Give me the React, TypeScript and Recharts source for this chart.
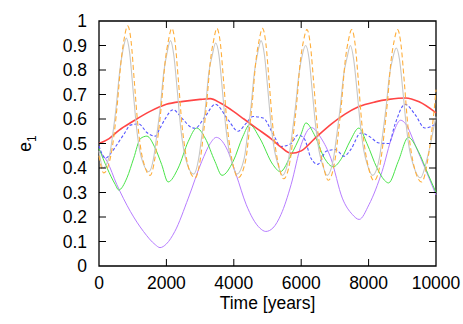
import React from 'react';
import { LineChart, Line, XAxis, YAxis, ReferenceArea, Label } from 'recharts';

// [time in years, e1] pairs
const ORANGE: [number, number][] = [
  [0, 0.45], [140, 0.38],
  [350, 0.45], [450, 0.54], [550, 0.67], [650, 0.83], [750, 0.93], [850, 0.98], [950, 0.92], [1050, 0.75], [1150, 0.58], [1250, 0.47], [1350, 0.41], [1520, 0.37],
  [1660, 0.44], [1760, 0.54], [1860, 0.67], [1960, 0.83], [2060, 0.92], [2160, 0.97], [2260, 0.91], [2360, 0.75], [2460, 0.58], [2560, 0.47], [2660, 0.40], [2850, 0.36],
  [3000, 0.43], [3100, 0.54], [3200, 0.67], [3300, 0.83], [3400, 0.92], [3500, 0.97], [3600, 0.91], [3700, 0.75], [3800, 0.58], [3900, 0.47], [4000, 0.40], [4125, 0.36],
  [4350, 0.43], [4450, 0.54], [4550, 0.67], [4650, 0.83], [4750, 0.92], [4850, 0.97], [4950, 0.91], [5050, 0.75], [5150, 0.58], [5250, 0.47], [5350, 0.40], [5480, 0.356],
  [5670, 0.43], [5770, 0.54], [5870, 0.67], [5970, 0.83], [6070, 0.92], [6170, 0.965], [6270, 0.905], [6370, 0.75], [6470, 0.58], [6570, 0.47], [6670, 0.40], [6805, 0.35],
  [7000, 0.43], [7100, 0.54], [7200, 0.67], [7300, 0.83], [7400, 0.92], [7500, 0.965], [7600, 0.905], [7700, 0.75], [7800, 0.58], [7900, 0.47], [8000, 0.40], [8160, 0.348],
  [8360, 0.43], [8460, 0.54], [8560, 0.67], [8660, 0.83], [8760, 0.92], [8860, 0.965], [8960, 0.905], [9060, 0.75], [9160, 0.58], [9260, 0.47], [9360, 0.40], [9575, 0.343],
  [9775, 0.45], [9875, 0.55], [9975, 0.68], [10000, 0.72],
];

const GRAY: [number, number][] = [
  [0, 0.47], [120, 0.40],
  [310, 0.45], [410, 0.54], [510, 0.65], [610, 0.79], [710, 0.88], [810, 0.93], [910, 0.87], [1010, 0.72], [1110, 0.57], [1210, 0.47], [1310, 0.42], [1480, 0.385],
  [1620, 0.44], [1720, 0.54], [1820, 0.65], [1920, 0.79], [2020, 0.87], [2120, 0.92], [2220, 0.86], [2320, 0.72], [2420, 0.57], [2520, 0.47], [2620, 0.415], [2810, 0.375],
  [2960, 0.44], [3060, 0.54], [3160, 0.65], [3260, 0.79], [3360, 0.86], [3460, 0.91], [3560, 0.86], [3660, 0.72], [3760, 0.57], [3860, 0.47], [3960, 0.415], [4090, 0.375],
  [4310, 0.44], [4410, 0.54], [4510, 0.65], [4610, 0.79], [4710, 0.87], [4810, 0.92], [4910, 0.86], [5010, 0.72], [5110, 0.57], [5210, 0.47], [5310, 0.415], [5440, 0.37],
  [5630, 0.44], [5730, 0.54], [5830, 0.65], [5930, 0.78], [6030, 0.86], [6130, 0.90], [6230, 0.85], [6330, 0.71], [6430, 0.57], [6530, 0.47], [6630, 0.415], [6770, 0.37],
  [6960, 0.44], [7060, 0.54], [7160, 0.65], [7260, 0.78], [7360, 0.85], [7460, 0.90], [7560, 0.84], [7660, 0.71], [7760, 0.57], [7860, 0.47], [7960, 0.415], [8120, 0.37],
  [8320, 0.44], [8420, 0.54], [8520, 0.65], [8620, 0.78], [8720, 0.85], [8820, 0.89], [8920, 0.84], [9020, 0.71], [9120, 0.57], [9220, 0.47], [9320, 0.415], [9540, 0.36],
  [9740, 0.44], [9840, 0.50], [9940, 0.57], [10000, 0.61],
];

const RED: [number, number][] = [
  [0, 0.50], [300, 0.52], [600, 0.555], [1000, 0.59], [1500, 0.63], [2000, 0.66], [2500, 0.672], [3000, 0.68], [3300, 0.683],
  [3600, 0.665], [4000, 0.63], [4300, 0.60], [4700, 0.56], [5100, 0.52], [5400, 0.485], [5700, 0.46], [6000, 0.47], [6400, 0.52],
  [6900, 0.58], [7300, 0.62], [7700, 0.65], [8200, 0.67], [8600, 0.68], [9100, 0.686], [9500, 0.67], [10000, 0.625],
];

const BLUE: [number, number][] = [
  [0, 0.49], [190, 0.44], [350, 0.46], [530, 0.495], [750, 0.54], [930, 0.575], [1180, 0.58], [1420, 0.545], [1670, 0.53],
  [1800, 0.56], [1960, 0.60], [2200, 0.638], [2450, 0.605], [2750, 0.565], [2850, 0.562], [3150, 0.61], [3450, 0.66], [3830, 0.597],
  [4125, 0.55], [4350, 0.58], [4570, 0.61], [4870, 0.604], [5160, 0.54], [5400, 0.488], [5700, 0.50], [5900, 0.535], [6090, 0.52],
  [6290, 0.44], [6490, 0.415], [6740, 0.468], [7020, 0.475], [7270, 0.448], [7470, 0.475], [7770, 0.543], [8010, 0.53], [8310, 0.502],
  [8600, 0.50], [8780, 0.577], [9080, 0.66], [9380, 0.618], [9670, 0.563], [10000, 0.58],
];

const GREEN: [number, number][] = [
  [0, 0.48], [240, 0.40], [485, 0.332], [585, 0.31], [830, 0.36], [1030, 0.44], [1230, 0.52], [1420, 0.53], [1670, 0.48],
  [1860, 0.414], [2050, 0.343], [2350, 0.40], [2650, 0.509], [2900, 0.563], [3150, 0.522], [3440, 0.427], [3650, 0.37], [3980, 0.427],
  [4270, 0.529], [4470, 0.577], [4770, 0.522], [5160, 0.414], [5380, 0.385], [5700, 0.454], [5990, 0.536], [6140, 0.584], [6390, 0.536],
  [6690, 0.44], [6950, 0.405], [7200, 0.44], [7450, 0.51], [7710, 0.563], [7950, 0.50], [8250, 0.40], [8500, 0.346], [8590, 0.339],
  [8880, 0.427], [9180, 0.525], [9475, 0.468], [9770, 0.373], [10000, 0.30],
];

const PURPLE: [number, number][] = [
  [0, 0.47], [240, 0.427], [530, 0.332], [930, 0.223], [1320, 0.141], [1670, 0.087], [1810, 0.075], [2000, 0.09], [2250, 0.141],
  [2650, 0.277], [3050, 0.427], [3300, 0.50], [3480, 0.525], [3780, 0.482], [4070, 0.373], [4370, 0.25], [4770, 0.155], [4950, 0.141],
  [5160, 0.155], [5400, 0.21], [5700, 0.332], [6000, 0.495], [6300, 0.565], [6590, 0.522], [6880, 0.44], [7220, 0.277], [7520, 0.21],
  [7720, 0.19], [8010, 0.25], [8400, 0.386], [8700, 0.53], [8950, 0.595], [9100, 0.58], [9380, 0.495], [9670, 0.40], [10000, 0.29],
];

const X_TICKS = [0, 2000, 4000, 6000, 8000, 10000];
const Y_TICKS = [0, 0.1, 0.2, 0.3, 0.4, 0.5, 0.6, 0.7, 0.8, 0.9, 1];

const W = 463;
const H = 324;
const PLOT = { left: 99, right: 436, top: 21, bottom: 266 };
const TICK = 7;
const FONT = '"Liberation Sans", Arial, Helvetica, sans-serif';

const pts = (pairs: [number, number][]) => pairs.map(([t, v]) => ({ t, v }));

const XTick = (props: any) => {
  const { x, y, payload } = props;
  const edge = payload.value !== 0 && payload.value !== 10000;
  return (
    <g>
      {edge && <line x1={x} x2={x} y1={PLOT.bottom} y2={PLOT.bottom - TICK} stroke="#000" />}
      {edge && <line x1={x} x2={x} y1={PLOT.top} y2={PLOT.top + TICK} stroke="#000" />}
      <text x={x} y={y} dy="0.71em" textAnchor="middle" fill="#000" fontSize={17.5} fontFamily={FONT}>
        {payload.value}
      </text>
    </g>
  );
};

const YTick = (props: any) => {
  const { x, y, payload } = props;
  const edge = payload.value !== 0 && payload.value !== 1;
  return (
    <g>
      {edge && <line x1={PLOT.left} x2={PLOT.left + TICK} y1={y} y2={y} stroke="#000" />}
      {edge && <line x1={PLOT.right} x2={PLOT.right - TICK} y1={y} y2={y} stroke="#000" />}
      <text x={x} y={y} dy="0.355em" textAnchor="end" fill="#000" fontSize={17.5} fontFamily={FONT}>
        {payload.value}
      </text>
    </g>
  );
};

const renderXLabel = (props: any) => {
  const vb = props.viewBox;
  return (
    <text x={vb.x + vb.width / 2} y={vb.y + 43} textAnchor="middle" fill="#000" fontSize={17.5} fontFamily={FONT}>
      Time [years]
    </text>
  );
};

const renderYLabel = (props: any) => {
  const vb = props.viewBox;
  const cx = vb.x + 31;
  const cy = vb.y + vb.height / 2;
  return (
    <text x={cx} y={cy} transform={`rotate(-90 ${cx} ${cy})`} textAnchor="middle" fill="#000" fontSize={17.5} fontFamily={FONT}>
      e<tspan fontSize={12} dy={5}>1</tspan>
    </text>
  );
};

const SERIES = [
  { key: 'purple', data: PURPLE, color: '#b77dff', width: 1, dash: undefined },
  { key: 'green', data: GREEN, color: '#48e448', width: 1, dash: undefined },
  { key: 'blue', data: BLUE, color: '#5656ff', width: 1.1, dash: '3 2' },
  { key: 'red', data: RED, color: '#ff4545', width: 1.6, dash: undefined },
  { key: 'gray', data: GRAY, color: '#c6c6c6', width: 1.1, dash: undefined },
  { key: 'orange', data: ORANGE, color: '#ffae3a', width: 1.1, dash: '5 3' },
];

export default function App() {
  return (
    <div style={{ position: 'absolute', left: 0, top: 0, width: W, height: H, background: '#fff' }}>
      <LineChart
        width={W}
        height={H}
        margin={{ top: PLOT.top, right: W - PLOT.right, bottom: 0, left: 0 }}
      >
        <XAxis
          dataKey="t"
          type="number"
          domain={[0, 10000]}
          ticks={X_TICKS}
          height={H - PLOT.bottom}
          axisLine={false}
          tickLine={false}
          tickSize={0}
          tickMargin={11}
          tick={<XTick />}
          interval={0}
          allowDuplicatedCategory={false}
        >
          <Label content={renderXLabel} />
        </XAxis>
        <YAxis
          type="number"
          domain={[0, 1]}
          ticks={Y_TICKS}
          width={PLOT.left}
          axisLine={false}
          tickLine={false}
          tickSize={0}
          tickMargin={12}
          tick={<YTick />}
          interval={0}
        >
          <Label content={renderYLabel} />
        </YAxis>
        {SERIES.map(s => (
          <Line
            key={s.key}
            data={pts(s.data)}
            dataKey="v"
            type="monotone"
            stroke={s.color}
            strokeWidth={s.width}
            strokeDasharray={s.dash}
            dot={false}
            activeDot={false}
            isAnimationActive={false}
          />
        ))}
        <ReferenceArea x1={0} x2={10000} y1={0} y2={1} fill="none" fillOpacity={0} stroke="#000" strokeWidth={1.3} />
      </LineChart>
    </div>
  );
}
